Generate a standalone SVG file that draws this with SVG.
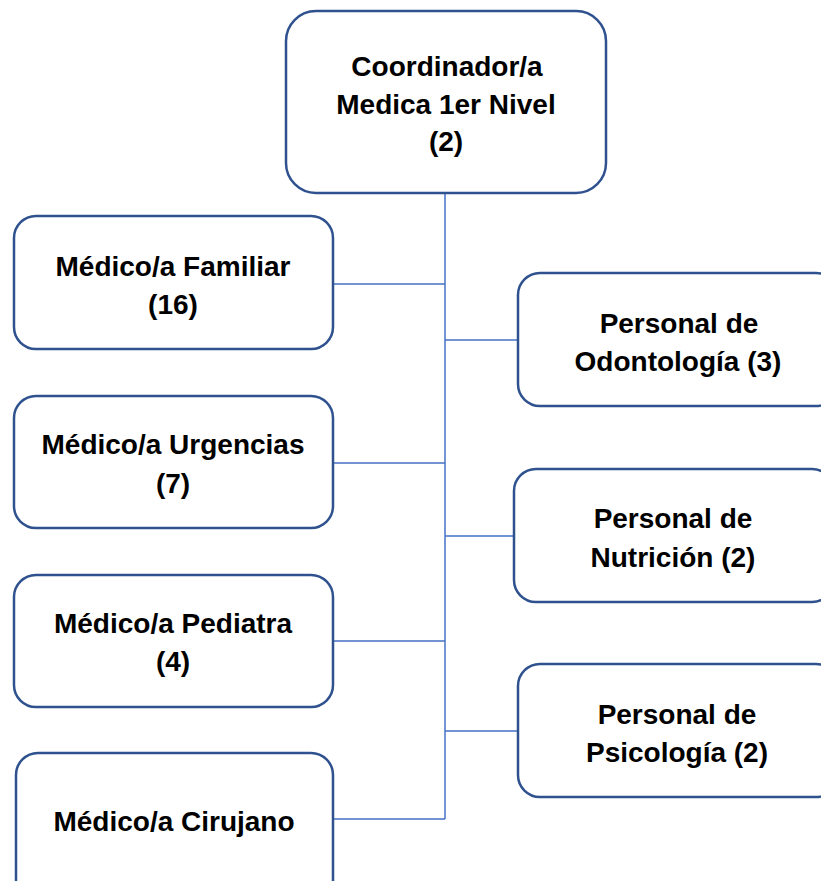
<svg xmlns="http://www.w3.org/2000/svg" width="821" height="881" viewBox="0 0 821 881">
<style>
.box{fill:#fff;stroke:#2F528F;stroke-width:2.5}
.t{font-family:"Liberation Sans",Arial,sans-serif;font-weight:bold;font-size:28px;fill:#000;text-anchor:middle}
.c{stroke:#4472C4;stroke-width:1.5;fill:none}
</style>
<rect width="821" height="881" fill="#fff"/>
<g id="connectors">
<path class="c" d="M445,194 V819"/>
<path class="c" d="M333,284 H445 M333,463 H445 M333,641 H445 M333,819 H445"/>
<path class="c" d="M445,340 H518 M445,536 H514 M445,731 H518"/>
</g>
<g id="coordinador">
<rect class="box" x="286" y="11" width="320" height="182" rx="30"/>
<text class="t" x="447" y="76">Coordinador/a</text>
<text class="t" x="446" y="114">Medica 1er Nivel</text>
<text class="t" x="446" y="151">(2)</text>
</g>
<g id="familiar">
<rect class="box" x="14" y="216" width="319" height="133" rx="22"/>
<text class="t" x="173" y="276">Médico/a Familiar</text>
<text class="t" x="173" y="314">(16)</text>
</g>
<g id="urgencias">
<rect class="box" x="14" y="396" width="319" height="132" rx="22"/>
<text class="t" x="173" y="454">Médico/a Urgencias</text>
<text class="t" x="173" y="493">(7)</text>
</g>
<g id="pediatra">
<rect class="box" x="14" y="575" width="319" height="132" rx="22"/>
<text class="t" x="173" y="633">Médico/a Pediatra</text>
<text class="t" x="173" y="671">(4)</text>
</g>
<g id="cirujano">
<rect class="box" x="16" y="753" width="317" height="150" rx="22"/>
<text class="t" x="174" y="831">Médico/a Cirujano</text>
</g>
<g id="odontologia">
<rect class="box" x="518" y="273" width="320" height="133" rx="22"/>
<text class="t" x="679" y="333">Personal de</text>
<text class="t" x="678" y="371">Odontología (3)</text>
</g>
<g id="nutricion">
<rect class="box" x="514" y="469" width="320" height="133" rx="22"/>
<text class="t" x="673" y="528">Personal de</text>
<text class="t" x="673" y="567">Nutrición (2)</text>
</g>
<g id="psicologia">
<rect class="box" x="518" y="664" width="320" height="133" rx="22"/>
<text class="t" x="677" y="724">Personal de</text>
<text class="t" x="677" y="762">Psicología (2)</text>
</g>
</svg>
